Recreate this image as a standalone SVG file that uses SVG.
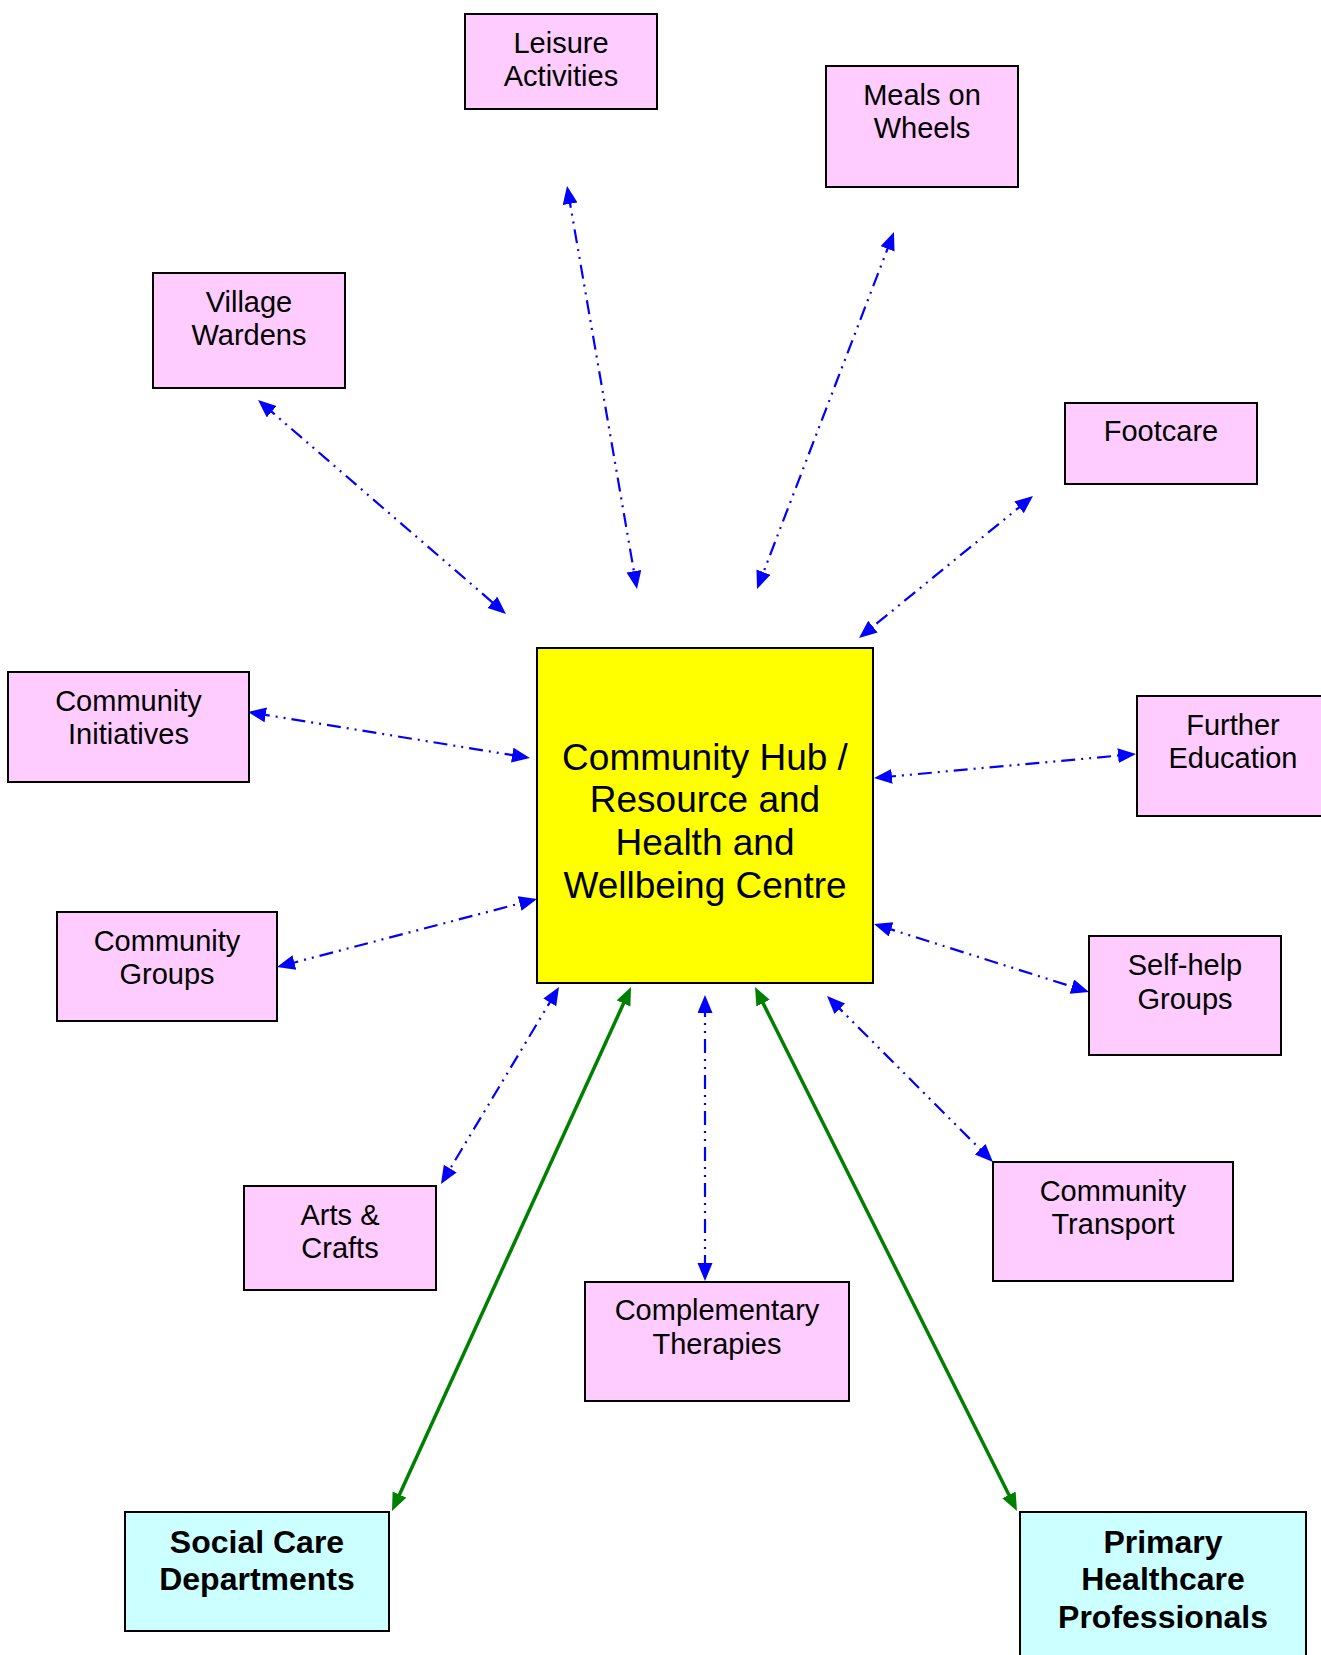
<svg xmlns="http://www.w3.org/2000/svg" width="1321" height="1655" viewBox="0 0 1321 1655">
<style>
.box{fill:#FFCCFF;stroke:#000;stroke-width:2}
.hub{fill:#FFFF00;stroke:#000;stroke-width:2}
.ext{fill:#CCFFFF;stroke:#000;stroke-width:2}
.t{font-family:"Liberation Sans",Arial,sans-serif;font-size:29px;fill:#000;text-anchor:middle}
.th{font-family:"Liberation Sans",Arial,sans-serif;font-size:37px;fill:#000;text-anchor:middle}
.tb{font-family:"Liberation Sans",Arial,sans-serif;font-size:32px;font-weight:bold;fill:#000;text-anchor:middle}
.blue{stroke:#0000FF;stroke-width:2.2;fill:none;stroke-dasharray:14 6 2 6 2 6;marker-start:url(#ab);marker-end:url(#ab)}
.green{stroke:#008000;stroke-width:3.5;fill:none;marker-start:url(#ag);marker-end:url(#ag)}
</style>
<defs>
<marker id="ab" markerUnits="userSpaceOnUse" markerWidth="19" markerHeight="16" refX="10" refY="7.5" orient="auto-start-reverse">
<path d="M0,0 L18,7.5 L0,15 z" fill="#0000FF"/>
</marker>
<marker id="ag" markerUnits="userSpaceOnUse" markerWidth="19" markerHeight="16" refX="10" refY="7.5" orient="auto-start-reverse">
<path d="M0,0 L18,7.5 L0,15 z" fill="#008000"/>
</marker>
</defs>
<rect width="1321" height="1655" fill="#FFFFFF"/>
<g id="connectors">
<line class="blue" x1="568.4" y1="193.9" x2="635.6" y2="581.1"/>
<line class="blue" x1="891.1" y1="239.5" x2="759.9" y2="581.5"/>
<line class="blue" x1="264.1" y1="405.2" x2="499.9" y2="608.8"/>
<line class="blue" x1="1026.8" y1="501.1" x2="865.2" y2="632.9"/>
<line class="blue" x1="255.9" y1="713.3" x2="522.1" y2="756.7"/>
<line class="blue" x1="882" y1="777.3" x2="1128" y2="754.7"/>
<line class="blue" x1="284.7" y1="965" x2="529.3" y2="901"/>
<line class="blue" x1="881.6" y1="926.4" x2="1081.4" y2="989.6"/>
<line class="blue" x1="554.9" y1="993.9" x2="445.1" y2="1177.1"/>
<line class="blue" x1="705" y1="1003" x2="705" y2="1273"/>
<line class="blue" x1="832.7" y1="1001.7" x2="987.3" y2="1156.3"/>
<line class="green" x1="627.7" y1="994.3" x2="395.3" y2="1503.7"/>
<line class="green" x1="758.6" y1="994.2" x2="1013.4" y2="1503.8"/>
</g>
<g id="hub">
<rect class="hub" x="537" y="648" width="336" height="335"/>
<text class="th" x="705" y="770">Community Hub /</text>
<text class="th" x="705" y="812">Resource and</text>
<text class="th" x="705" y="855">Health and</text>
<text class="th" x="705" y="898">Wellbeing Centre</text>
</g>
<g id="leisure">
<rect class="box" x="465" y="14" width="192" height="95"/>
<text class="t" x="561" y="53">Leisure</text>
<text class="t" x="561" y="86">Activities</text>
</g>
<g id="meals">
<rect class="box" x="826" y="66" width="192" height="121"/>
<text class="t" x="922" y="105">Meals on</text>
<text class="t" x="922" y="138">Wheels</text>
</g>
<g id="village">
<rect class="box" x="153" y="273" width="192" height="115"/>
<text class="t" x="249" y="312">Village</text>
<text class="t" x="249" y="345">Wardens</text>
</g>
<g id="footcare">
<rect class="box" x="1065" y="403" width="192" height="81"/>
<text class="t" x="1161" y="441">Footcare</text>
</g>
<g id="initiatives">
<rect class="box" x="8" y="672" width="241" height="110"/>
<text class="t" x="128.5" y="711">Community</text>
<text class="t" x="128.5" y="744">Initiatives</text>
</g>
<g id="further">
<rect class="box" x="1137" y="696" width="192" height="120"/>
<text class="t" x="1233" y="735">Further</text>
<text class="t" x="1233" y="768">Education</text>
</g>
<g id="groups">
<rect class="box" x="57" y="912" width="220" height="109"/>
<text class="t" x="167" y="951">Community</text>
<text class="t" x="167" y="984">Groups</text>
</g>
<g id="selfhelp">
<rect class="box" x="1089" y="936" width="192" height="119"/>
<text class="t" x="1185" y="975">Self-help</text>
<text class="t" x="1185" y="1009">Groups</text>
</g>
<g id="arts">
<rect class="box" x="244" y="1186" width="192" height="104"/>
<text class="t" x="340" y="1225">Arts &amp;</text>
<text class="t" x="340" y="1258">Crafts</text>
</g>
<g id="transport">
<rect class="box" x="993" y="1162" width="240" height="119"/>
<text class="t" x="1113" y="1201">Community</text>
<text class="t" x="1113" y="1234">Transport</text>
</g>
<g id="complementary">
<rect class="box" x="585" y="1282" width="264" height="119"/>
<text class="t" x="717" y="1320">Complementary</text>
<text class="t" x="717" y="1354">Therapies</text>
</g>
<g id="social">
<rect class="ext" x="125" y="1512" width="264" height="119"/>
<text class="tb" x="257" y="1553">Social Care</text>
<text class="tb" x="257" y="1590">Departments</text>
</g>
<g id="primary">
<rect class="ext" x="1020" y="1512" width="286" height="160"/>
<text class="tb" x="1163" y="1553">Primary</text>
<text class="tb" x="1163" y="1590">Healthcare</text>
<text class="tb" x="1163" y="1628">Professionals</text>
</g>
</svg>
